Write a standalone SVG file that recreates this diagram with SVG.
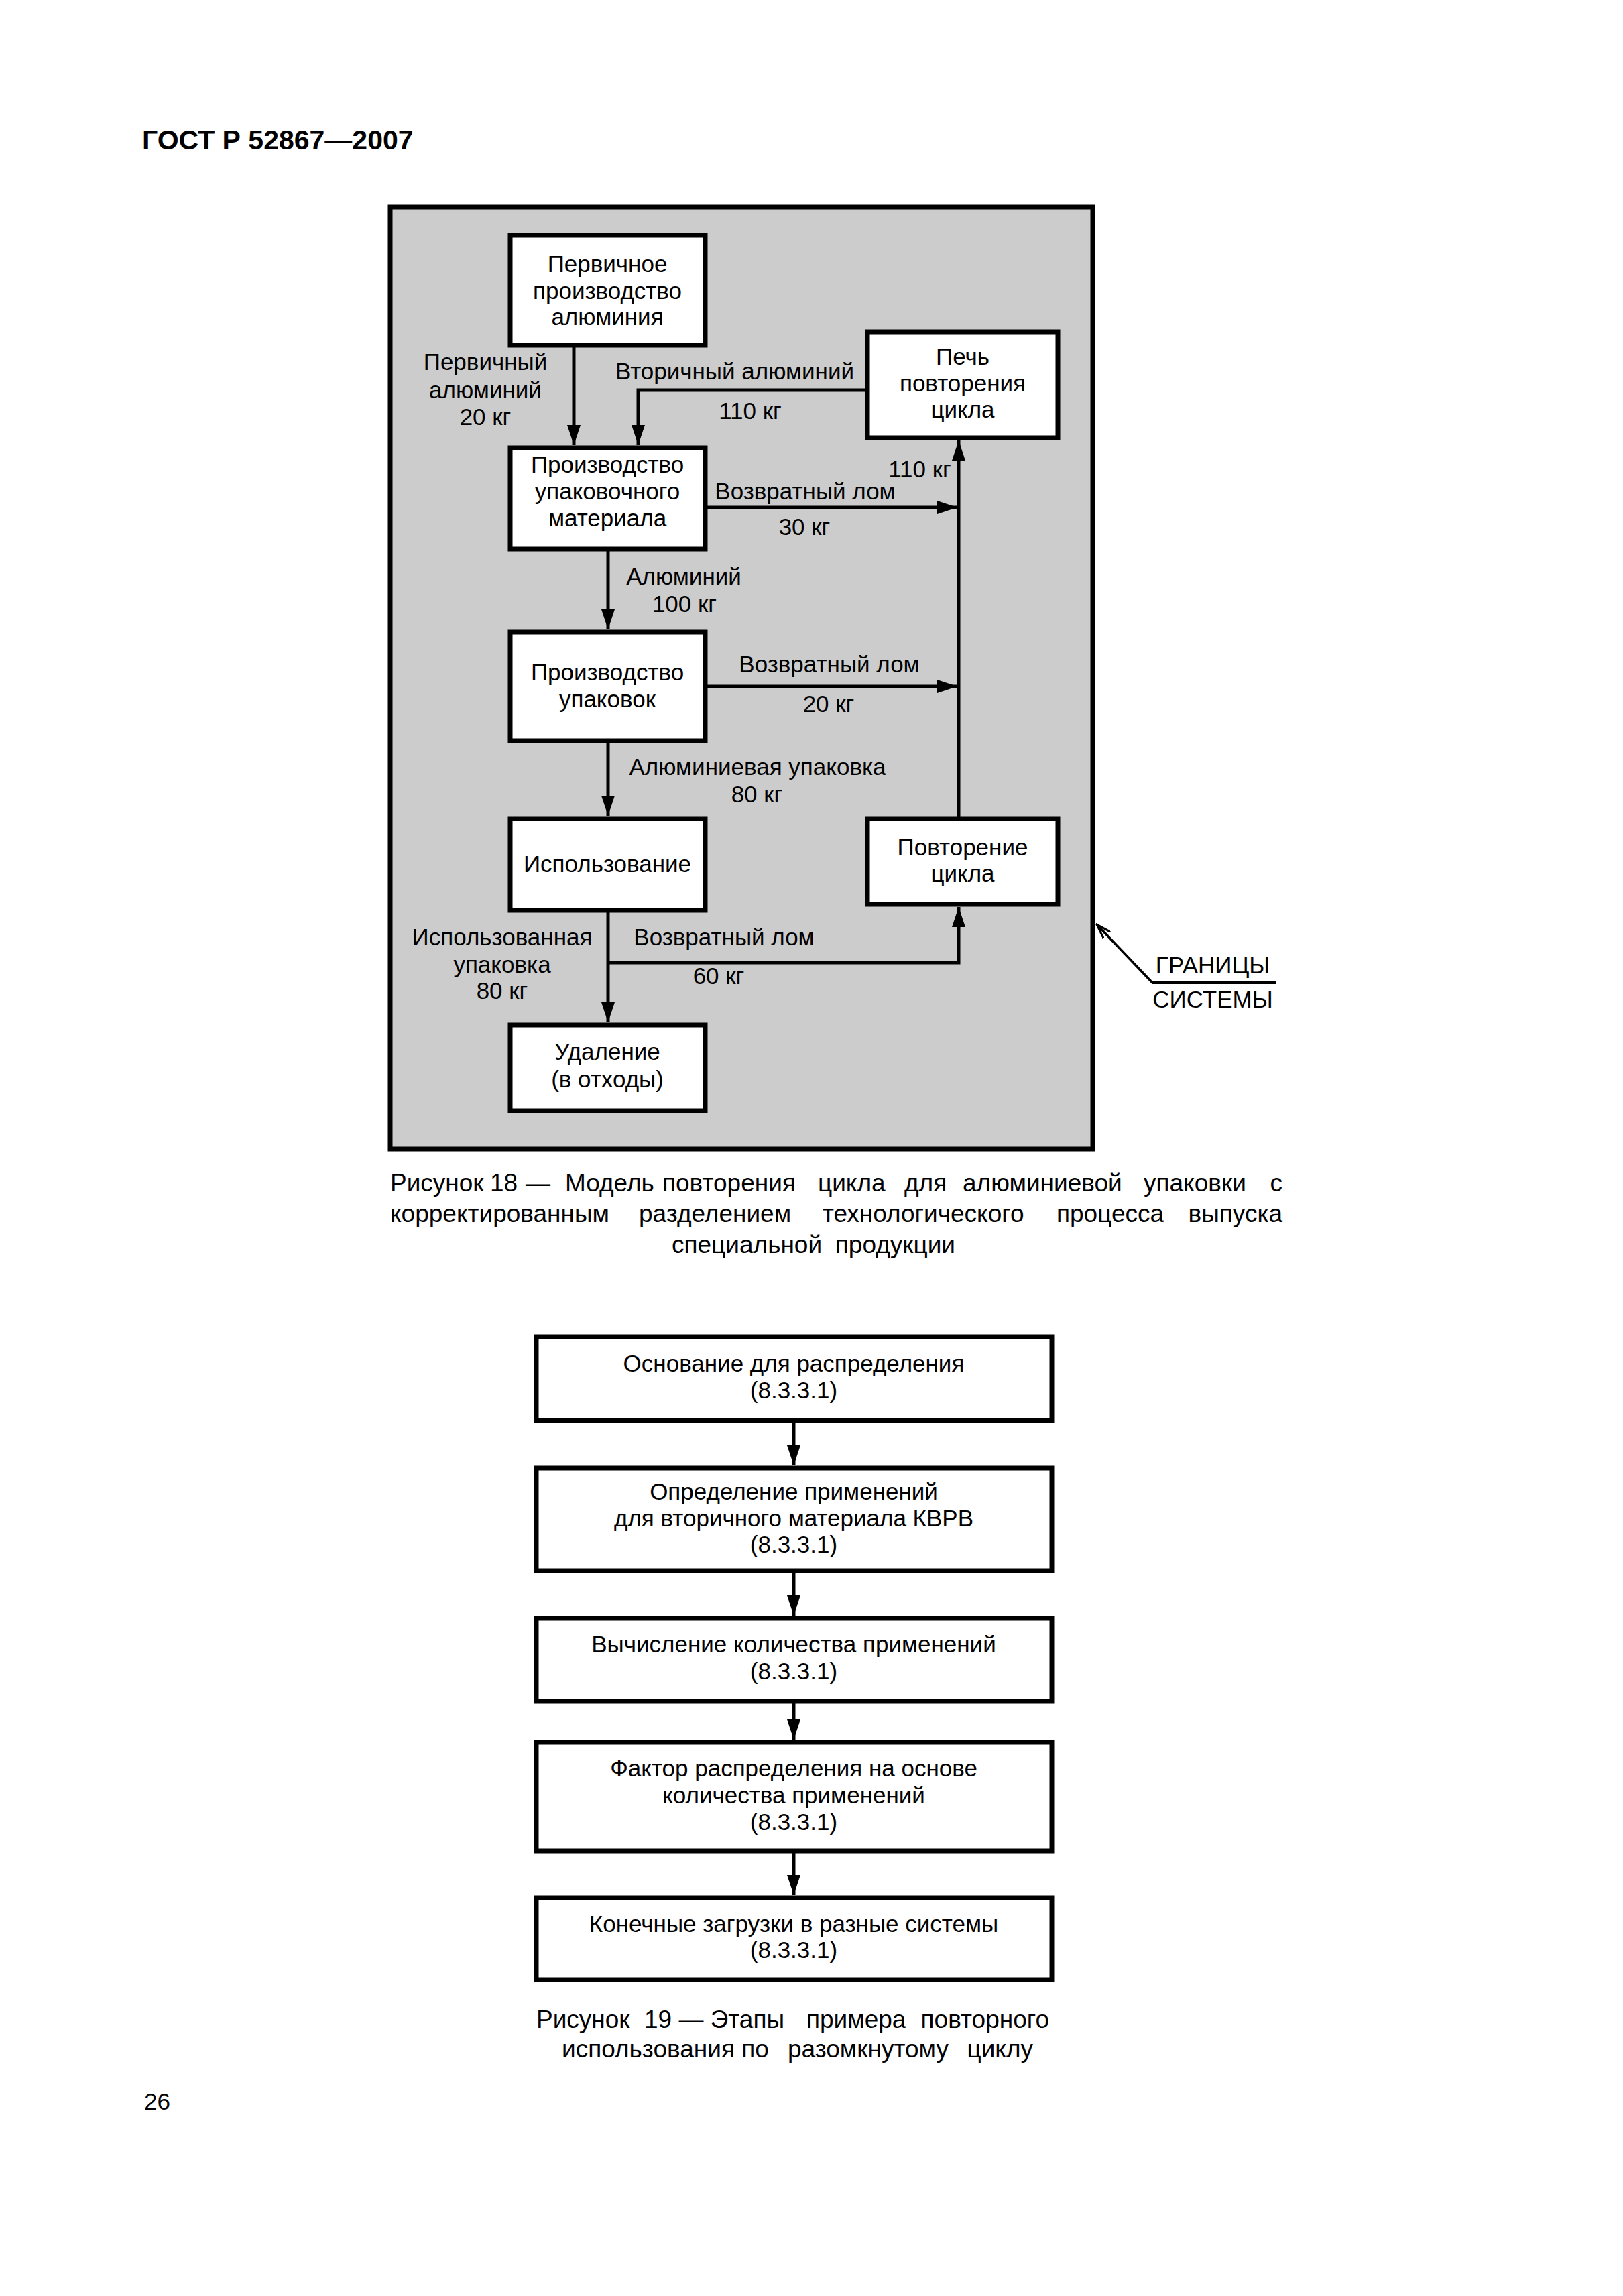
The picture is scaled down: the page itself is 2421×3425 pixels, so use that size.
<svg xmlns="http://www.w3.org/2000/svg" width="2421" height="3425" viewBox="0 0 2421 3425">
<style>
text{font-family:"Liberation Sans",Arial,sans-serif;font-size:35px;fill:#000}
.c{text-anchor:middle}
.e{text-anchor:end}
.box{fill:#fff;stroke:#000;stroke-width:7}
.ln{fill:none;stroke:#000;stroke-width:5}
.cap text{font-size:37px}
</style>
<defs>
<marker id="ah" markerUnits="userSpaceOnUse" markerWidth="30" markerHeight="20" refX="30" refY="10" orient="auto">
<path d="M0,0 L30,10 L0,20 z" fill="#000"/>
</marker>
<marker id="oh" markerUnits="userSpaceOnUse" markerWidth="24" markerHeight="16" refX="22" refY="8" orient="auto">
<path d="M0,1 L22,8 L0,15" fill="none" stroke="#000" stroke-width="3"/>
</marker>
</defs>
<rect width="2421" height="3425" fill="#fff"/>
<text x="212" y="223" style="font-size:41px;font-weight:bold">ГОСТ Р 52867—2007</text>

<g id="boundary">
<rect x="582" y="309" width="1048" height="1405" fill="#cccccc" stroke="#000" stroke-width="7"/>
</g>

<g id="connectors">
<line class="ln" x1="856" y1="515" x2="856" y2="664" marker-end="url(#ah)"/>
<polyline class="ln" points="1294,582 952,582 952,664" marker-end="url(#ah)"/>
<line class="ln" x1="1430" y1="1221" x2="1430" y2="657" marker-end="url(#ah)"/>
<line class="ln" x1="1052" y1="757" x2="1428" y2="757" marker-end="url(#ah)"/>
<line class="ln" x1="907" y1="818" x2="907" y2="939" marker-end="url(#ah)"/>
<line class="ln" x1="1052" y1="1024" x2="1428" y2="1024" marker-end="url(#ah)"/>
<line class="ln" x1="907" y1="1105" x2="907" y2="1217" marker-end="url(#ah)"/>
<line class="ln" x1="907" y1="1358" x2="907" y2="1525" marker-end="url(#ah)"/>
<polyline class="ln" points="907,1436 1430,1436 1430,1353" marker-end="url(#ah)"/>
<line x1="1719" y1="1466" x2="1636" y2="1379" stroke="#000" stroke-width="3.5" marker-end="url(#oh)"/>
<line x1="1719" y1="1466" x2="1903" y2="1466" stroke="#000" stroke-width="4"/>
<line class="ln" x1="1184" y1="2119" x2="1184" y2="2186" marker-end="url(#ah)"/>
<line class="ln" x1="1184" y1="2343" x2="1184" y2="2410" marker-end="url(#ah)"/>
<line class="ln" x1="1184" y1="2538" x2="1184" y2="2595" marker-end="url(#ah)"/>
<line class="ln" x1="1184" y1="2761" x2="1184" y2="2827" marker-end="url(#ah)"/>
</g>

<g id="labels">
<text class="c" x="724" y="552">Первичный</text>
<text class="c" x="724" y="594">алюминий</text>
<text class="c" x="724" y="634">20 кг</text>
<text class="c" x="1096" y="566">Вторичный алюминий</text>
<text class="c" x="1119" y="625">110 кг</text>
<text class="c" x="1372" y="712">110 кг</text>
<text class="c" x="1201" y="745">Возвратный лом</text>
<text class="c" x="1200" y="798">30 кг</text>
<text class="c" x="1020" y="872">Алюминий</text>
<text class="c" x="1021" y="913">100 кг</text>
<text class="c" x="1237" y="1003">Возвратный лом</text>
<text class="c" x="1236" y="1062">20 кг</text>
<text class="c" x="1130" y="1156">Алюминиевая упаковка</text>
<text class="c" x="1129" y="1197">80 кг</text>
<text class="c" x="749" y="1410">Использованная</text>
<text class="c" x="749" y="1451">упаковка</text>
<text class="c" x="749" y="1490">80 кг</text>
<text class="c" x="1080" y="1410">Возвратный лом</text>
<text class="c" x="1072" y="1468">60 кг</text>
<text class="c" x="1809" y="1452">ГРАНИЦЫ</text>
<text class="c" x="1809" y="1503">СИСТЕМЫ</text>
</g>

<g id="n-primary">
<rect class="box" x="761" y="351" width="291" height="164"/>
<text class="c" x="906" y="406">Первичное</text>
<text class="c" x="906" y="446">производство</text>
<text class="c" x="906" y="485">алюминия</text>
</g>
<g id="n-furnace">
<rect class="box" x="1294" y="495" width="284" height="158"/>
<text class="c" x="1436" y="544">Печь</text>
<text class="c" x="1436" y="584">повторения</text>
<text class="c" x="1436" y="623">цикла</text>
</g>
<g id="n-material">
<rect class="box" x="761" y="668" width="291" height="151"/>
<text class="c" x="906" y="705">Производство</text>
<text class="c" x="906" y="745">упаковочного</text>
<text class="c" x="906" y="785">материала</text>
</g>
<g id="n-packaging">
<rect class="box" x="761" y="943" width="291" height="162"/>
<text class="c" x="906" y="1015">Производство</text>
<text class="c" x="906" y="1055">упаковок</text>
</g>
<g id="n-use">
<rect class="box" x="761" y="1221" width="291" height="137"/>
<text class="c" x="906" y="1301">Использование</text>
</g>
<g id="n-recycle">
<rect class="box" x="1294" y="1221" width="284" height="128"/>
<text class="c" x="1436" y="1276">Повторение</text>
<text class="c" x="1436" y="1315">цикла</text>
</g>
<g id="n-disposal">
<rect class="box" x="761" y="1529" width="291" height="128"/>
<text class="c" x="906" y="1581">Удаление</text>
<text class="c" x="906" y="1622">(в отходы)</text>
</g>

<g id="caption18" class="cap">
<text x="582" y="1777">Рисунок</text>
<text x="731" y="1777">18</text>
<text x="784" y="1777">—</text>
<text x="843" y="1777">Модель</text>
<text x="988" y="1777">повторения</text>
<text x="1220" y="1777">цикла</text>
<text x="1349" y="1777">для</text>
<text x="1436" y="1777">алюминиевой</text>
<text x="1706" y="1777">упаковки</text>
<text class="e" x="1913" y="1777">с</text>
<text x="582" y="1823">корректированным</text>
<text x="953" y="1823">разделением</text>
<text x="1227" y="1823">технологического</text>
<text x="1576" y="1823">процесса</text>
<text class="e" x="1913" y="1823">выпуска</text>
<text x="1002" y="1869">специальной</text>
<text class="e" x="1425" y="1869">продукции</text>
</g>

<g id="f19-a">
<rect class="box" x="800" y="1994" width="769" height="125"/>
<text class="c" x="1184" y="2046">Основание для распределения</text>
<text class="c" x="1184" y="2086">(8.3.3.1)</text>
</g>
<g id="f19-b">
<rect class="box" x="800" y="2190" width="769" height="153"/>
<text class="c" x="1184" y="2237">Определение применений</text>
<text class="c" x="1184" y="2277">для вторичного материала КВРВ</text>
<text class="c" x="1184" y="2316">(8.3.3.1)</text>
</g>
<g id="f19-c">
<rect class="box" x="800" y="2414" width="769" height="124"/>
<text class="c" x="1184" y="2465">Вычисление количества применений</text>
<text class="c" x="1184" y="2505">(8.3.3.1)</text>
</g>
<g id="f19-d">
<rect class="box" x="800" y="2599" width="769" height="162"/>
<text class="c" x="1184" y="2650">Фактор распределения на основе</text>
<text class="c" x="1184" y="2690">количества применений</text>
<text class="c" x="1184" y="2730">(8.3.3.1)</text>
</g>
<g id="f19-e">
<rect class="box" x="800" y="2831" width="769" height="122"/>
<text class="c" x="1184" y="2882">Конечные загрузки в разные системы</text>
<text class="c" x="1184" y="2921">(8.3.3.1)</text>
</g>

<g id="caption19" class="cap">
<text x="800" y="3025">Рисунок</text>
<text x="961" y="3025">19 — Этапы</text>
<text x="1203" y="3025">примера</text>
<text class="e" x="1565" y="3025">повторного</text>
<text x="838" y="3069">использования по</text>
<text x="1175" y="3069">разомкнутому</text>
<text class="e" x="1541" y="3069">циклу</text>
</g>

<text x="215" y="3147">26</text>
</svg>
